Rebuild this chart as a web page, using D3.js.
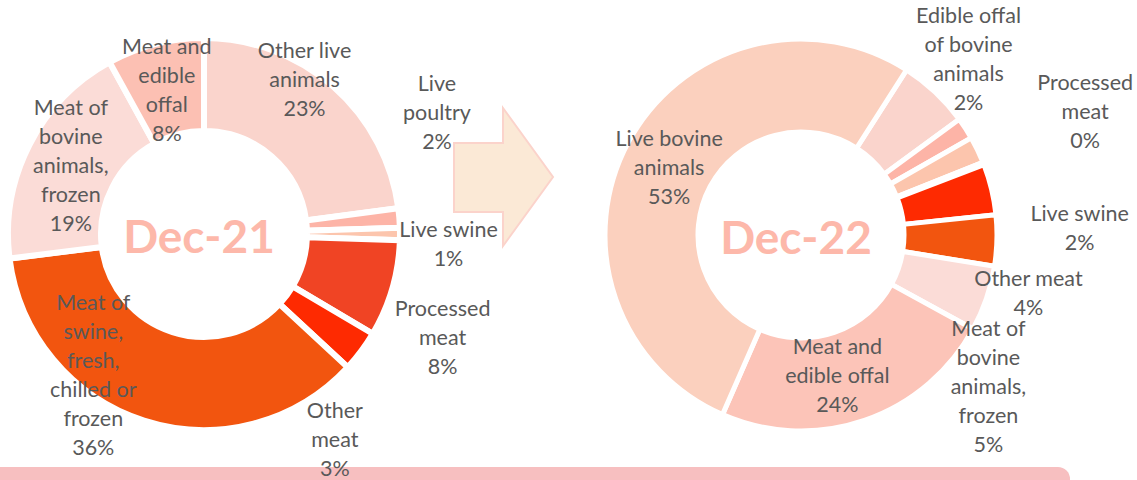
<!DOCTYPE html>
<html>
<head>
<meta charset="utf-8">
<script src="https://cdn.jsdelivr.net/npm/d3@7"></script>
<style>
  body { margin: 0; background: #fff; }
  svg { display: block; font-family: Lato, "Open Sans", sans-serif; }
</style>
</head>
<body>
<svg id="chart" width="1137" height="480"></svg>
<script>
// --- data (shares in %) ---
const dec21Categories = ["Other live\nanimals", "Live\npoultry", "Live swine", "Processed\nmeat", "Other\nmeat",
  "Meat of\nswine,\nfresh,\nchilled or\nfrozen", "Meat of\nbovine\nanimals,\nfrozen", "Meat and\nedible\noffal"];
const dec21Values = [22.9, 1.6, 1.0, 8.0, 3.4, 36.1, 19.0, 8.0];

// two small slices of Dec-22 carry no label in the source
const dec22Categories = ["", "Edible offal\nof bovine\nanimals", "Live swine", "Processed\nmeat", "",
  "Other meat", "Meat of\nbovine\nanimals,\nfrozen", "Meat and\nedible offal", "Live bovine\nanimals"];
const dec22Values = [5.9, 1.8, 2.2, 0.2, 4.2, 4.2, 5.4, 23.6, 52.5];

const dec21Colors = ["#fad4cc", "#fdb4a7", "#fcc5ad", "#f04424", "#fe2a01", "#f2550f", "#fbdcd7", "#fcc0b3"];
const dec22Colors = ["#fad4cc", "#fdb4a7", "#fcc5ad", "#f04424", "#fe2a01", "#f2550f", "#fbdcd7", "#fcc4b8", "#fbd0be"];

// label nudges from the slice centroid (Excel moved them by hand)
const dec21Nudge = [[2, -42], [84, -109], [95, 10], [95, 62], [11, 117], [-65, -1], [0, 0], [0, 1]];
const dec22Nudge = [[0, 0], [42, -94], [144, 58], [145, -68], [0, 0], [78, 54], [46, 104], [-12, 0], [0, 3]];

const svg = d3.select("#chart");

// bottom band
svg.append("rect")
  .attr("x", -12).attr("y", 467)
  .attr("width", 1082).attr("height", 40)
  .attr("rx", 12)
  .attr("fill", "#f7bfc0");

// arrow between the two donuts
const arrowPts = [[454, 143], [503, 143], [503, 108], [553, 177], [503, 246], [503, 212], [454, 212]];
svg.append("polygon")
  .attr("points", arrowPts.map(p => p.join(",")).join(" "))
  .attr("fill", "#fbe9d6")
  .attr("stroke", "#fbd3cb")
  .attr("stroke-width", 2);

const outerR = 196, innerR = 103;
const arc = d3.arc().innerRadius(innerR).outerRadius(outerR);

function donut(cx, cy, title, cats, vals, colors, nudge, startDeg, gap) {
  const start = startDeg * Math.PI / 180;
  const pie = d3.pie().sort(null).value(d => d).startAngle(start).endAngle(start + 2 * Math.PI);
  const arcs = pie(vals);
  const g = svg.append("g").attr("transform", `translate(${cx},${cy})`);

  g.selectAll("path")
    .data(arcs)
    .join("path")
    .attr("d", arc)
    .attr("fill", (d, i) => colors[i])
    .attr("stroke", "#fff")
    .attr("stroke-width", gap);

  g.append("text")
    .attr("x", -5).attr("y", 19)
    .attr("text-anchor", "middle")
    .attr("font-weight", "bold")
    .attr("font-size", 46)
    .attr("fill", "#fdb8aa")
    .text(title);

  const lh = 29;
  arcs.forEach((d, i) => {
    if (!cats[i]) return;
    const c = arc.centroid(d);
    const x = c[0] + nudge[i][0], y = c[1] + nudge[i][1];
    const lines = cats[i].split("\n").concat([Math.round(vals[i]) + "%"]);
    const t = g.append("text")
      .attr("text-anchor", "middle")
      .attr("font-size", 21.5)
      .attr("fill", "#595959");
    lines.forEach((s, k) => {
      t.append("tspan")
        .attr("x", x)
        .attr("y", y + (k - (lines.length - 1) / 2) * lh + 7)
        .text(s);
    });
  });
}

donut(204, 234, "Dec-21", dec21Categories, dec21Values, dec21Colors, dec21Nudge, 0, 6);
donut(801, 235, "Dec-22", dec22Categories, dec22Values, dec22Colors, dec22Nudge, 32.6, 5);
</script>
</body>
</html>
